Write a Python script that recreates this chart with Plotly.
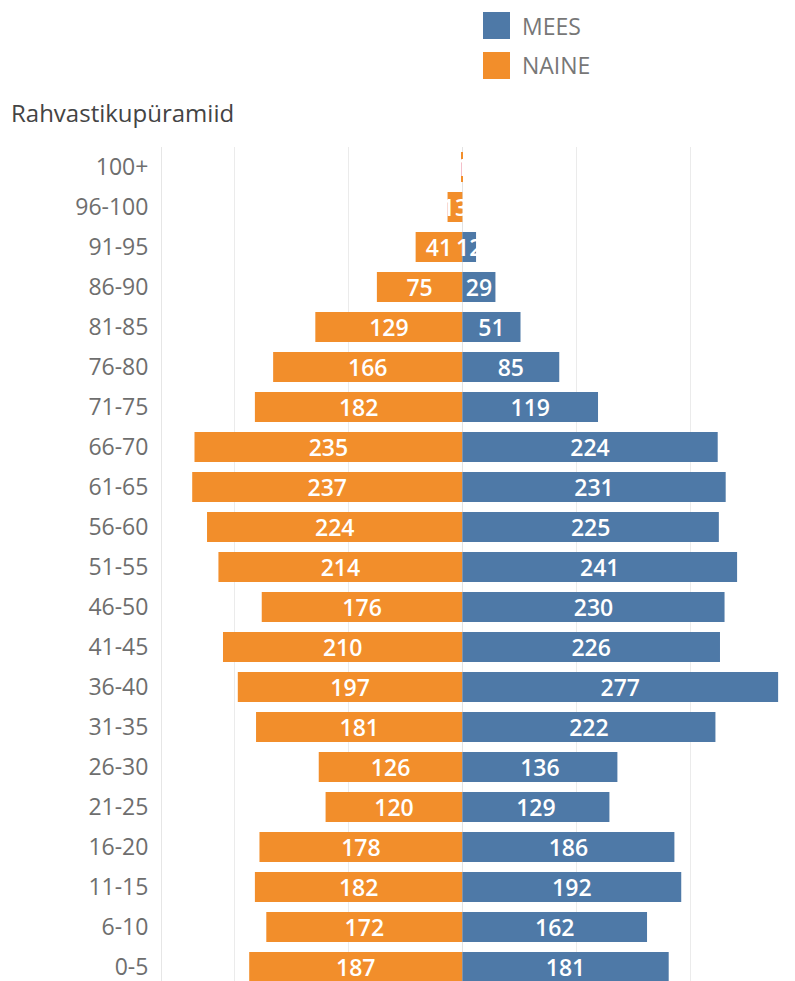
import plotly.graph_objects as go

age_groups = ["100+", "96-100", "91-95", "86-90", "81-85", "76-80", "71-75", "66-70",
              "61-65", "56-60", "51-55", "46-50", "41-45", "36-40", "31-35", "26-30",
              "21-25", "16-20", "11-15", "6-10", "0-5"]
naine = [1, 13, 41, 75, 129, 166, 182, 235, 237, 224, 214, 176, 210, 197, 181, 126,
         120, 178, 182, 172, 187]
mees = [None, None, 12, 29, 51, 85, 119, 224, 231, 225, 241, 230, 226, 277, 222, 136,
        129, 186, 192, 162, 181]
grid_vals = [-200, -100, 0, 100, 200]

BLUE = "#4e79a7"
ORANGE = "#f28e2b"
FONT = "Open Sans"
OFF = 8  # page body margin
W, H = 795 - OFF, 981 - OFF
ML, MR, MT, MB = 162 - OFF, 0, 147 - OFF, 0
PW, PH = W - ML - MR, H - MT - MB


def px_x(p):
    return (p - OFF - ML) / PW


def px_y(p):
    return 1 - (p - OFF - MT) / PH


label_font = dict(color="white", size=23, family=FONT, weight=600)

fig = go.Figure()
fig.add_trace(go.Bar(
    y=age_groups, x=[-v for v in naine], orientation="h", name="NAINE",
    marker=dict(color=ORANGE, line=dict(width=0)),
    text=[str(v) for v in naine], textposition="inside", insidetextanchor="middle",
    textangle=0, textfont=label_font,
    hoverinfo="skip", showlegend=False,
))
fig.add_trace(go.Bar(
    y=age_groups, x=mees, orientation="h", name="MEES",
    marker=dict(color=BLUE, line=dict(width=0)),
    text=[("" if v is None else str(v)) for v in mees], textposition="inside",
    insidetextanchor="middle", textangle=0, textfont=label_font,
    hoverinfo="skip", showlegend=False,
))

fig.update_layout(
    width=W, height=H,
    margin=dict(l=ML, r=MR, t=MT, b=MB, pad=0),
    paper_bgcolor="white", plot_bgcolor="white",
    barmode="overlay", bargap=0.25,
    uniformtext=dict(minsize=23, mode="show"),
    font=dict(family=FONT, color="#666666"),
    xaxis=dict(range=[-263.5, 291.8], tickvals=grid_vals, showticklabels=False,
               showgrid=True, gridcolor="#ebebeb", gridwidth=1,
               zeroline=True, zerolinecolor="#e3e3e3", zerolinewidth=1,
               showline=False, fixedrange=True),
    yaxis=dict(categoryorder="array", categoryarray=age_groups,
               range=[20.35, -0.5], showgrid=False, zeroline=False,
               showline=True, linecolor="#e6e6e6", linewidth=1,
               ticks="", ticklabelstandoff=8,
               tickfont=dict(size=23, color="#6e6e6e", family=FONT),
               fixedrange=True),
)

# Title
fig.add_annotation(text="Rahvastikupüramiid", xref="paper", yref="paper",
                   x=px_x(9), y=px_y(112), xanchor="left", yanchor="middle",
                   showarrow=False, font=dict(size=24, color="#444444", family=FONT))

# Legend (drawn manually to match square size)
legend_items = [("MEES", BLUE, 12), ("NAINE", ORANGE, 52)]
for name, color, top in legend_items:
    fig.add_shape(type="rect", xref="paper", yref="paper",
                  x0=px_x(483), x1=px_x(510), y0=px_y(top), y1=px_y(top + 27),
                  fillcolor=color, line=dict(width=0))
    fig.add_annotation(text=name, xref="paper", yref="paper",
                       x=px_x(520), y=px_y(top + 13.5), xanchor="left", yanchor="middle",
                       showarrow=False, font=dict(size=23, color="#777777", family=FONT))

fig.write_html("out.html")
